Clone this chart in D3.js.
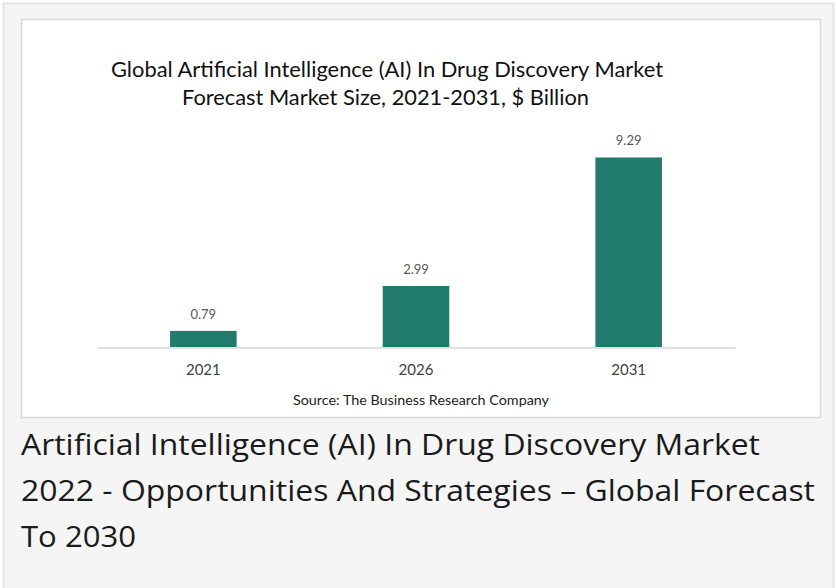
<!DOCTYPE html>
<html>
<head>
<meta charset="utf-8">
<script src="https://cdn.jsdelivr.net/npm/d3@7"></script>
<style>
  html, body { margin: 0; padding: 0; background: #ffffff; }
  svg { display: block; }
</style>
</head>
<body>
<svg id="chart" width="836" height="588"></svg>
<script>
// ---- data ----
const categories = ["2021", "2026", "2031"];
const values = [0.79, 2.99, 9.29];
const valueLabels = ["0.79", "2.99", "9.29"];
const titleLines = [
  "Global Artificial Intelligence (AI) In Drug Discovery Market",
  "Forecast Market Size, 2021-2031, $ Billion"
];
const sourceText = "Source: The Business Research Company";
const captionLines = [
  "Artificial Intelligence (AI) In Drug Discovery Market",
  "2022 - Opportunities And Strategies \u2013 Global Forecast",
  "To 2030"
];

// ---- layout ----
const svg = d3.select("#chart");

// outer card
svg.append("rect")
  .attr("x", 3.5).attr("y", 3.5)
  .attr("width", 830).attr("height", 600)
  .attr("fill", "#f5f5f5")
  .attr("stroke", "#e4e4e4").attr("stroke-width", 2);

// inner white image box
svg.append("rect")
  .attr("x", 21.5).attr("y", 19.5)
  .attr("width", 799).attr("height", 398)
  .attr("fill", "#ffffff")
  .attr("stroke", "#d9d9d9").attr("stroke-width", 1.5);

// title
const titleWidths = [552, 407];
const titleCenters = [387, 385.5];
svg.selectAll("text.title").data(titleLines).join("text")
  .attr("class", "title")
  .attr("x", (d, i) => titleCenters[i])
  .attr("y", (d, i) => 77 + i * 28)
  .attr("text-anchor", "middle")
  .attr("font-family", "Lato, 'Open Sans', sans-serif")
  .attr("font-size", 21)
  .attr("fill", "#111111")
  .attr("textLength", (d, i) => titleWidths[i])
  .attr("lengthAdjust", "spacingAndGlyphs")
  .text(d => d);

// scales
const x = d3.scaleBand()
  .domain(categories)
  .range([97, 735])
  .paddingInner(0.687)
  .paddingOuter(0.3435);

const y = d3.scaleLinear()
  .domain([0, 10])
  .range([347, 143]);

// bars
svg.selectAll("rect.bar").data(values).join("rect")
  .attr("class", "bar")
  .attr("x", (d, i) => x(categories[i]))
  .attr("width", x.bandwidth())
  .attr("y", d => y(d))
  .attr("height", d => y(0) - y(d))
  .attr("fill", "#217b6c");

// value labels
svg.selectAll("text.val").data(values).join("text")
  .attr("class", "val")
  .attr("x", (d, i) => x(categories[i]) + x.bandwidth() / 2)
  .attr("y", d => y(d) - 12)
  .attr("text-anchor", "middle")
  .attr("font-family", "Lato, 'Open Sans', sans-serif")
  .attr("font-size", 13)
  .attr("fill", "#595959")
  .text((d, i) => valueLabels[i]);

// axis
const axis = svg.append("g")
  .attr("transform", "translate(0,347.5)")
  .call(d3.axisBottom(x).tickSize(0).tickSizeOuter(0));
axis.select(".domain").attr("stroke", "#d6d6d6").attr("stroke-width", 1.5);
axis.selectAll(".tick text")
  .attr("y", 27.5)
  .attr("dy", 0)
  .attr("font-family", "Lato, 'Open Sans', sans-serif")
  .attr("font-size", 15)
  .attr("fill", "#404040");

// source
svg.append("text")
  .attr("x", 421).attr("y", 405)
  .attr("text-anchor", "middle")
  .attr("font-family", "Lato, 'Open Sans', sans-serif")
  .attr("font-size", 13.5)
  .attr("fill", "#222222")
  .attr("textLength", 256)
  .attr("lengthAdjust", "spacingAndGlyphs")
  .text(sourceText);

// caption below
const captionWidths = [739, 794, 115];
svg.selectAll("text.caption").data(captionLines).join("text")
  .attr("class", "caption")
  .attr("x", 21)
  .attr("y", (d, i) => 455 + i * 46)
  .attr("font-family", "'Open Sans', sans-serif")
  .attr("font-size", 30)
  .attr("fill", "#1a1a1a")
  .attr("textLength", (d, i) => captionWidths[i])
  .attr("lengthAdjust", "spacingAndGlyphs")
  .text(d => d);
</script>
</body>
</html>
